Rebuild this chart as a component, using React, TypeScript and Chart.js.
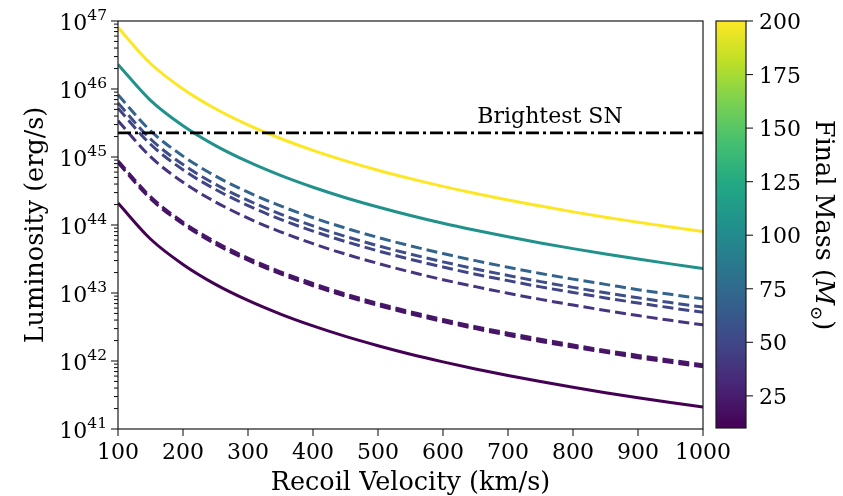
import React, { useEffect, useRef } from "react";
import { Chart, registerables } from "chart.js";

Chart.register(...registerables);

// ---------- data ----------
const velocities = [100, 150, 200, 250, 300, 350, 400, 450, 500, 550, 600, 650, 700, 750, 800, 850, 900, 950, 1000];

const lumM200 = [8.0e46, 2.37e46, 1.0e46, 5.12e45, 2.96e45, 1.87e45, 1.25e45, 8.78e44, 6.4e44, 4.81e44, 3.7e44, 2.91e44, 2.33e44, 1.9e44, 1.56e44, 1.3e44, 1.1e44, 9.33e43, 8.0e43];
const lumM105 = [2.3e46, 6.81e45, 2.88e45, 1.47e45, 8.52e44, 5.36e44, 3.59e44, 2.52e44, 1.84e44, 1.38e44, 1.06e44, 8.37e43, 6.71e43, 5.45e43, 4.49e43, 3.75e43, 3.16e43, 2.68e43, 2.3e43];
const lumM73 = [8.2e45, 2.43e45, 1.03e45, 5.25e44, 3.04e44, 1.91e44, 1.28e44, 9.0e43, 6.56e43, 4.93e43, 3.8e43, 2.99e43, 2.39e43, 1.94e43, 1.6e43, 1.34e43, 1.12e43, 9.56e42, 8.2e42];
const lumM50 = [6.2e45, 1.84e45, 7.75e44, 3.97e44, 2.3e44, 1.45e44, 9.69e43, 6.8e43, 4.96e43, 3.73e43, 2.87e43, 2.26e43, 1.81e43, 1.47e43, 1.21e43, 1.01e43, 8.5e42, 7.23e42, 6.2e42];
const lumM45 = [5.2e45, 1.54e45, 6.5e44, 3.33e44, 1.93e44, 1.21e44, 8.13e43, 5.71e43, 4.16e43, 3.13e43, 2.41e43, 1.89e43, 1.52e43, 1.23e43, 1.02e43, 8.47e42, 7.13e42, 6.06e42, 5.2e42];
const lumM35 = [3.4e45, 1.01e45, 4.25e44, 2.18e44, 1.26e44, 7.93e43, 5.31e43, 3.73e43, 2.72e43, 2.04e43, 1.57e43, 1.24e43, 9.91e42, 8.06e42, 6.64e42, 5.54e42, 4.66e42, 3.96e42, 3.4e42];
const lumM22 = [8.8e44, 2.61e44, 1.1e44, 5.63e43, 3.26e43, 2.05e43, 1.38e43, 9.66e42, 7.04e42, 5.29e42, 4.07e42, 3.2e42, 2.57e42, 2.09e42, 1.72e42, 1.43e42, 1.21e42, 1.03e42, 8.8e41];
const lumM20 = [8.2e44, 2.43e44, 1.03e44, 5.25e43, 3.04e43, 1.91e43, 1.28e43, 9.0e42, 6.56e42, 4.93e42, 3.8e42, 2.99e42, 2.39e42, 1.94e42, 1.6e42, 1.34e42, 1.12e42, 9.56e41, 8.2e41];
const lumM10 = [2.1e44, 6.22e43, 2.63e43, 1.34e43, 7.78e42, 4.9e42, 3.28e42, 2.3e42, 1.68e42, 1.26e42, 9.72e41, 7.65e41, 6.12e41, 4.98e41, 4.1e41, 3.42e41, 2.88e41, 2.45e41, 2.1e41];

const brightestSN = 2.26e45;
const snLabel = "Brightest SN";

const xTicks = [100, 200, 300, 400, 500, 600, 700, 800, 900, 1000];
const yExponents = [41, 42, 43, 44, 45, 46, 47];
const colorbarTicks = [25, 50, 75, 100, 125, 150, 175, 200];
const colorbarMin = 10;
const colorbarMax = 200;

const xTitle = "Recoil Velocity (km/s)";
const yTitle = "Luminosity (erg/s)";

// ---------- styles ----------
const FONT = '"DejaVu Serif", serif';
const TICK_PX = 22;
const TITLE_PX = 25.5;
const viridis = ["#440154", "#482475", "#414487", "#355f8d", "#2a788e", "#21918c", "#22a884", "#44bf70", "#7ad151", "#bddf26", "#fde725"];

const series = [
  { data: lumM10, color: "#440154", dash: [] as number[] },
  { data: lumM20, color: "#471365", dash: [11, 5] },
  { data: lumM22, color: "#48186a", dash: [11, 5] },
  { data: lumM35, color: "#463480", dash: [11, 5] },
  { data: lumM45, color: "#404588", dash: [11, 5] },
  { data: lumM50, color: "#3d4e8a", dash: [11, 5] },
  { data: lumM73, color: "#32648e", dash: [11, 5] },
  { data: lumM105, color: "#21918c", dash: [] as number[] },
  { data: lumM200, color: "#fde725", dash: [] as number[] },
];

const decor = {
  id: "decor",
  afterDatasetsDraw(chart: any) {
    const { ctx, chartArea: a, scales } = chart;
    const xs = scales.x;
    const ys = scales.y;
    ctx.save();

    // frame
    ctx.strokeStyle = "#1a1a1a";
    ctx.lineWidth = 1.2;
    ctx.strokeRect(a.left, a.top, a.right - a.left, a.bottom - a.top);

    // y ticks (major + minor)
    ctx.lineWidth = 1.1;
    for (let e = 41; e <= 46; e++) {
      for (let m = 1; m <= 9; m++) {
        const py = ys.getPixelForValue(m * Math.pow(10, e));
        const len = m === 1 ? 7 : 4;
        ctx.beginPath();
        ctx.moveTo(a.left, py);
        ctx.lineTo(a.left - len, py);
        ctx.stroke();
      }
    }
    {
      const py = ys.getPixelForValue(1e47);
      ctx.beginPath();
      ctx.moveTo(a.left, py);
      ctx.lineTo(a.left - 7, py);
      ctx.stroke();
    }
    // x ticks
    for (const t of xTicks) {
      const px = xs.getPixelForValue(t);
      ctx.beginPath();
      ctx.moveTo(px, a.bottom);
      ctx.lineTo(px, a.bottom + 7);
      ctx.stroke();
    }

    ctx.fillStyle = "#000";
    // x tick labels
    ctx.font = `${TICK_PX}px ${FONT}`;
    ctx.textAlign = "center";
    ctx.textBaseline = "alphabetic";
    for (const t of xTicks) {
      const px = xs.getPixelForValue(t);
      ctx.fillText(String(t), px, a.bottom + 30);
    }

    // y tick labels 10^e
    for (const e of yExponents) {
      const py = ys.getPixelForValue(Math.pow(10, e));
      const xEnd = a.left - 11;
      ctx.font = `15.5px ${FONT}`;
      const ew = ctx.measureText(String(e)).width;
      ctx.textAlign = "left";
      ctx.fillText(String(e), xEnd - ew, py - 1);
      ctx.font = `${TICK_PX}px ${FONT}`;
      ctx.textAlign = "right";
      ctx.fillText("10", xEnd - ew, py + 8.5);
    }

    // axis titles
    ctx.font = `${TITLE_PX}px ${FONT}`;
    ctx.textAlign = "center";
    ctx.textBaseline = "alphabetic";
    ctx.fillText(xTitle, (a.left + a.right) / 2, 490);
    ctx.save();
    ctx.translate(43, (a.top + a.bottom) / 2);
    ctx.rotate(-Math.PI / 2);
    ctx.fillText(yTitle, 0, 0);
    ctx.restore();

    // brightest SN label
    ctx.font = `22px ${FONT}`;
    ctx.textAlign = "center";
    ctx.fillText(snLabel, 550, 123);

    // colorbar
    const cbL = 716, cbR = 746, cbT = a.top, cbB = a.bottom - 1;
    const g = ctx.createLinearGradient(0, cbB, 0, cbT);
    viridis.forEach((c, i) => g.addColorStop(i / (viridis.length - 1), c));
    ctx.fillStyle = g;
    ctx.fillRect(cbL, cbT, cbR - cbL, cbB - cbT);
    ctx.strokeStyle = "#1a1a1a";
    ctx.lineWidth = 1.2;
    ctx.strokeRect(cbL, cbT, cbR - cbL, cbB - cbT);
    ctx.fillStyle = "#000";
    ctx.font = `${TICK_PX}px ${FONT}`;
    ctx.textAlign = "left";
    ctx.lineWidth = 1.1;
    for (const t of colorbarTicks) {
      const py = cbT + ((colorbarMax - t) / (colorbarMax - colorbarMin)) * (cbB - cbT);
      ctx.beginPath();
      ctx.moveTo(cbR, py);
      ctx.lineTo(cbR + 7, py);
      ctx.stroke();
      ctx.fillText(String(t), cbR + 13, py + 8);
    }

    // colorbar label: Final Mass (M_sun)
    ctx.save();
    ctx.translate(816, (a.top + a.bottom) / 2);
    ctx.rotate(Math.PI / 2);
    const p1 = "Final Mass (";
    ctx.font = `${TITLE_PX}px ${FONT}`;
    const w1 = ctx.measureText(p1).width;
    ctx.font = `italic ${TITLE_PX}px ${FONT}`;
    const w2 = ctx.measureText("M").width;
    ctx.font = `17px ${FONT}`;
    const w3 = ctx.measureText("\u2299").width;
    ctx.font = `${TITLE_PX}px ${FONT}`;
    const w4 = ctx.measureText(")").width;
    let cx = -(w1 + w2 + w3 + w4 + 1) / 2;
    ctx.textAlign = "left";
    ctx.fillText(p1, cx, 0);
    cx += w1;
    ctx.font = `italic ${TITLE_PX}px ${FONT}`;
    ctx.fillText("M", cx, 0);
    cx += w2 + 1;
    ctx.font = `17px ${FONT}`;
    ctx.fillText("\u2299", cx, 5);
    cx += w3;
    ctx.font = `${TITLE_PX}px ${FONT}`;
    ctx.fillText(")", cx, 0);
    ctx.restore();

    ctx.restore();
  },
};

export default function App() {
  const ref = useRef<HTMLCanvasElement | null>(null);

  useEffect(() => {
    document.body.style.margin = "0";
    const canvas = ref.current;
    if (!canvas) return;
    const datasets: any[] = [
      {
        data: [
          { x: 100, y: brightestSN },
          { x: 1000, y: brightestSN },
        ],
        borderColor: "#000",
        borderWidth: 2.6,
        borderDash: [13, 4, 3, 4],
        pointRadius: 0,
        fill: false,
      },
      ...series.map((s) => ({
        data: velocities.map((v, i) => ({ x: v, y: s.data[i] })),
        borderColor: s.color,
        borderWidth: 3,
        borderDash: s.dash,
        pointRadius: 0,
        fill: false,
        cubicInterpolationMode: "monotone",
      })),
    ];
    const chart = new Chart(canvas, {
      type: "line",
      data: { datasets },
      options: {
        responsive: false,
        animation: false,
        events: [],
        layout: { padding: { left: 118, top: 21, right: 140, bottom: 67 } },
        plugins: { legend: { display: false }, tooltip: { enabled: false } },
        scales: {
          x: {
            type: "linear",
            min: 100,
            max: 1000,
            grid: { display: false },
            ticks: { display: false },
            border: { display: false },
            afterFit: (s: any) => {
              s.height = 0;
            },
          },
          y: {
            type: "logarithmic",
            min: 1e41,
            max: 1e47,
            grid: { display: false },
            ticks: { display: false },
            border: { display: false },
            afterFit: (s: any) => {
              s.width = 0;
            },
          },
        },
      },
      plugins: [decor],
    });
    return () => chart.destroy();
  }, []);

  return (
    <canvas
      ref={ref}
      width={843}
      height={496}
      style={{ display: "block", position: "absolute", left: 0, top: 0, width: 843, height: 496 }}
    />
  );
}
